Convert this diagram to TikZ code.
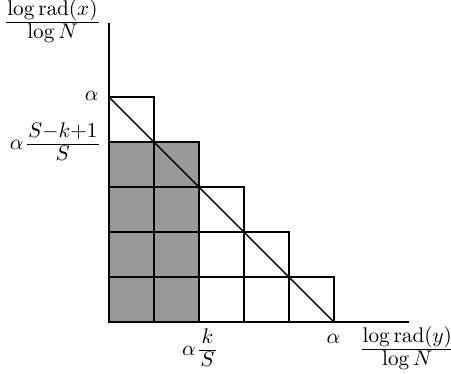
\documentclass[tikz,border=0pt]{standalone}
\usepackage{amsmath}
\newcommand{\myfrac}[2]{\raisebox{5.7pt}{\vtop{\offinterlineskip\halign{\hfil\kern.5pt##\kern.5pt\hfil\cr
  $\vrule width0pt depth3.0pt #1$\cr
  \noalign{\hrule height0.4pt}
  $\vrule width0pt height7.4pt #2$\cr}}}}
\begin{document}
\begin{tikzpicture}[x=22.5pt,y=22.5pt,
  cell/.style={draw=black,line width=0.7pt},
  graycell/.style={cell,fill=black!40},
  axis/.style={line width=0.7pt},
  lbl/.style={inner sep=0pt,scale=1.06,transform shape,anchor=base}]
\useasboundingbox (-2.422,-1.133) rectangle (7.6,7.156);
% cells
\foreach \r/\n in {0/5,1/4,2/3,3/2,4/1}{
  \foreach \c in {1,...,\n}{
    \pgfmathtruncatemacro{\cc}{\c-1}
    \ifnum\cc<2 \ifnum\r<4
      \filldraw[graycell] (\cc,\r) rectangle ++(1,1);
    \else
      \draw[cell] (\cc,\r) rectangle ++(1,1);
    \fi
    \else
      \draw[cell] (\cc,\r) rectangle ++(1,1);
    \fi
  }
}
\coordinate (O) at (0,0);
\coordinate (ytop) at (0,6.644);
\coordinate (xend) at (6.667,0);
\coordinate (d1) at (0,5);
\coordinate (d2) at (5,0);
\draw[axis] (ytop) -- (O) -- (xend);
\draw[axis] (d1) -- (d2);
% labels
\node[lbl] (ylab) at (-1.256,6.549) {\myfrac{\log\mathrm{rad}(x)}{\log N}};
\node[lbl,anchor=base east] (a1) at (-0.222,4.92) {$\alpha$};
\node[lbl,anchor=base east] (a2) at (-0.222,3.838) {$\alpha$\,\myfrac{S{-}k{+}1}{S}};
\node[lbl] (a3) at (2.0,-0.74) {$\alpha$\,\myfrac{k}{S}};
\node[lbl] (a4) at (4.99,-0.48) {$\alpha$};
\node[lbl] (xlab) at (6.63,-0.718) {\myfrac{\log\mathrm{rad}(y)}{\log N}};
\end{tikzpicture}
\end{document}
